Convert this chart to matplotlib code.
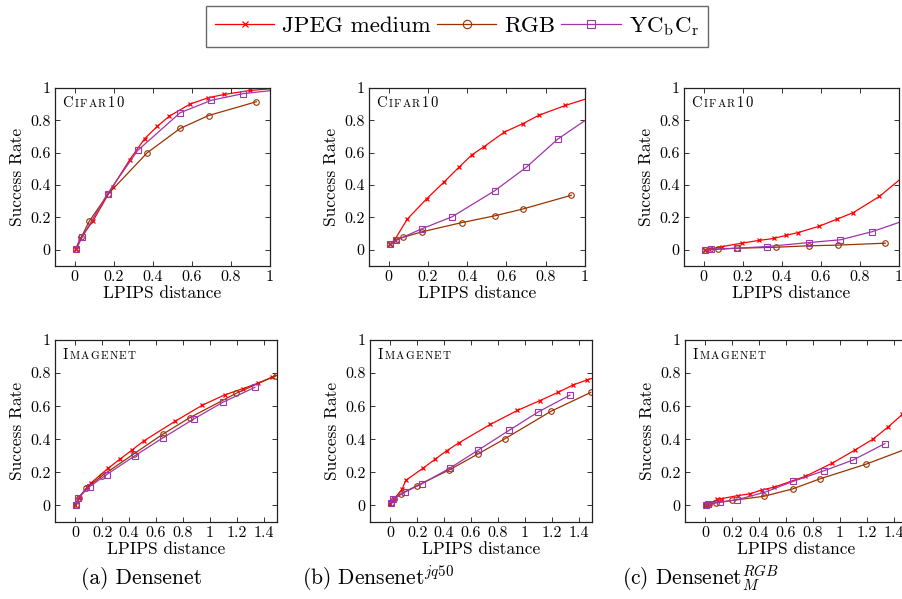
import matplotlib
matplotlib.use("Agg")
import matplotlib.pyplot as plt
from matplotlib.transforms import offset_copy
import numpy as np

plt.rcParams['font.family'] = ['cmr10', 'DejaVu Serif']
plt.rcParams['mathtext.fontset'] = 'cm'
plt.rcParams['axes.formatter.use_mathtext'] = True

# ---- data: Cifar10 row ----
c_jpeg_x = [0.005, 0.03, 0.095, 0.195, 0.283, 0.358, 0.424, 0.485, 0.59, 0.684, 0.766, 0.90, 1.05]
c_rgb_x = [0.008, 0.035, 0.075, 0.172, 0.372, 0.54, 0.686, 0.93]
c_ycc_x = [0.008, 0.04, 0.169, 0.323, 0.54, 0.70, 0.862, 1.05]

c_jpeg_a = [0.004, 0.07, 0.18, 0.39, 0.558, 0.686, 0.764, 0.826, 0.90, 0.94, 0.96, 0.985, 1.0]
c_rgb_a = [0.004, 0.079, 0.176, 0.345, 0.60, 0.75, 0.83, 0.915]
c_ycc_a = [0.004, 0.08, 0.347, 0.614, 0.847, 0.924, 0.965, 0.99]

c_jpeg_b = [0.034, 0.06, 0.19, 0.317, 0.42, 0.51, 0.587, 0.637, 0.728, 0.78, 0.832, 0.892, 0.95]
c_rgb_b = [0.034, 0.058, 0.078, 0.112, 0.168, 0.21, 0.253, 0.337]
c_ycc_b = [0.034, 0.06, 0.13, 0.204, 0.365, 0.509, 0.685, 0.84]

c_jpeg_c = [0.0, 0.004, 0.02, 0.041, 0.058, 0.07, 0.09, 0.107, 0.145, 0.19, 0.23, 0.33, 0.48]
c_rgb_c = [0.0, 0.004, 0.004, 0.01, 0.016, 0.025, 0.029, 0.041]
c_ycc_c = [0.0, 0.004, 0.01, 0.02, 0.045, 0.062, 0.112, 0.19]

# ---- data: Imagenet row ----
i_jpeg_x = [0.0, 0.025, 0.09, 0.115, 0.244, 0.333, 0.421, 0.51, 0.745, 0.945, 1.111, 1.246, 1.362, 1.465, 1.55]
i_rgb_x = [0.005, 0.025, 0.083, 0.2, 0.44, 0.65, 0.85, 1.197, 1.49]
i_ycc_x = [0.005, 0.02, 0.107, 0.233, 0.443, 0.655, 0.884, 1.098, 1.336]

i_jpeg_a = [0.0, 0.046, 0.11, 0.134, 0.224, 0.28, 0.334, 0.39, 0.51, 0.606, 0.668, 0.706, 0.74, 0.776, 0.80]
i_rgb_a = [0.0, 0.046, 0.104, 0.18, 0.314, 0.43, 0.53, 0.678, 0.784]
i_ycc_a = [0.0, 0.044, 0.114, 0.186, 0.30, 0.41, 0.524, 0.624, 0.714]

i_jpeg_b = [0.006, 0.036, 0.10, 0.151, 0.225, 0.279, 0.331, 0.378, 0.49, 0.574, 0.633, 0.683, 0.729, 0.759, 0.78]
i_rgb_b = [0.012, 0.036, 0.072, 0.12, 0.215, 0.31, 0.402, 0.57, 0.683]
i_ycc_b = [0.012, 0.036, 0.08, 0.13, 0.225, 0.335, 0.454, 0.564, 0.667]

i_jpeg_c = [0.0, 0.01, 0.036, 0.04, 0.06, 0.07, 0.094, 0.11, 0.176, 0.256, 0.334, 0.40, 0.476, 0.55, 0.62]
i_rgb_c = [0.0, 0.01, 0.016, 0.03, 0.056, 0.10, 0.16, 0.25, 0.34]
i_ycc_c = [0.0, 0.01, 0.02, 0.034, 0.08, 0.146, 0.21, 0.274, 0.374]

series_names = ['JPEG medium', 'RGB', r'Y$\mathrm{C_b}$$\mathrm{C_r}$']
captions = ['(a) Densenet', r'(b) Densenet$^{jq50}$', r'(c) Densenet$_{M}^{RGB}$']

RED = '#ff0000'
BROWN = '#993300'
PURPLE = '#a035a8'

fig = plt.figure(figsize=(9.02, 5.99), dpi=100)
W, H = 902.0, 599.0
renderer = fig.canvas.get_renderer()


def box(x0, x1, ytop, ybot):
    return [x0 / W, 1 - ybot / H, (x1 - x0) / W, (ybot - ytop) / H]


top_boxes = [box(55, 270, 88, 266), box(369, 585, 88, 266), box(684, 899, 88, 266)]
bot_boxes = [box(55, 277, 340, 522), box(370, 592, 340, 522), box(685, 907, 340, 522)]

top_data = [(c_jpeg_a, c_rgb_a, c_ycc_a), (c_jpeg_b, c_rgb_b, c_ycc_b), (c_jpeg_c, c_rgb_c, c_ycc_c)]
bot_data = [(i_jpeg_a, i_rgb_a, i_ycc_a), (i_jpeg_b, i_rgb_b, i_ycc_b), (i_jpeg_c, i_rgb_c, i_ycc_c)]


def small_caps(ax, parts):
    # letters drawn one by one on a common baseline, fake small capitals
    dx = 0.0
    for txt, fs in parts:
        for ch in txt:
            tr = offset_copy(ax.transAxes, fig=fig, x=dx, y=0, units='dots')
            t = ax.text(0.035, 0.895, ch, transform=tr, fontsize=fs,
                        va='baseline', ha='left')
            dx += t.get_window_extent(renderer).width + 1.3


def draw(ax, xs, ys, xlim, xticks, xticklabels, label):
    jx, rx, yx = xs
    jy, ry, yy = ys
    ax.plot(jx, jy, color=RED, marker='x', ms=3, mew=0.9, lw=0.9, label=series_names[0])
    ax.plot(rx, ry, color=BROWN, marker='o', ms=4, mfc='none', mew=0.8, lw=0.9,
            label=series_names[1])
    ax.plot(yx, yy, color=PURPLE, marker='s', ms=4.3, mfc='none', mew=0.8, lw=0.9,
            label=series_names[2])
    ax.set_xlim(*xlim)
    ax.set_ylim(-0.1, 1.0)
    ax.set_xticks(xticks)
    ax.set_xticklabels(xticklabels)
    ax.set_yticks([0, 0.2, 0.4, 0.6, 0.8, 1])
    ax.set_yticklabels(['0', '0.2', '0.4', '0.6', '0.8', '1'])
    ax.tick_params(direction='in', length=3.5, width=0.7, labelsize=11.5,
                   top=True, right=True, pad=3, color='#333333')
    for sp in ax.spines.values():
        sp.set_linewidth(0.9)
        sp.set_color('#222222')
    ax.set_xlabel('LPIPS distance', fontsize=12.5, labelpad=1)
    ax.set_ylabel('Success Rate', fontsize=12.5, labelpad=4)
    if label == 'c':
        small_caps(ax, [('C', 10.5), ('IFAR', 8), ('10', 10.5)])
    else:
        small_caps(ax, [('I', 10.5), ('MAGENET', 8)])


c_ticks = [0, 0.2, 0.4, 0.6, 0.8, 1]
c_labels = ['0', '0.2', '0.4', '0.6', '0.8', '1']
i_ticks = [0, 0.2, 0.4, 0.6, 0.8, 1, 1.2, 1.4]
i_labels = ['0', '0.2', '0.4', '0.6', '0.8', '1', '1.2', '1.4']

axes = []
for b, d in zip(top_boxes, top_data):
    ax = fig.add_axes(b)
    draw(ax, (c_jpeg_x, c_rgb_x, c_ycc_x), d, (-0.1, 1.0), c_ticks, c_labels, 'c')
    axes.append(ax)
for b, d in zip(bot_boxes, bot_data):
    ax = fig.add_axes(b)
    draw(ax, (i_jpeg_x, i_rgb_x, i_ycc_x), d, (-0.15, 1.5), i_ticks, i_labels, 'i')
    axes.append(ax)

handles, labels = axes[0].get_legend_handles_labels()
leg = fig.legend(handles, labels, loc='center', bbox_to_anchor=(457 / W, 1 - 26.5 / H),
                 ncol=3, fontsize=16.5, frameon=True, fancybox=False, edgecolor='#444444',
                 handlelength=2.6, handletextpad=0.35, columnspacing=0.25,
                 borderpad=0.4, markerscale=1.5)
leg.get_frame().set_linewidth(1.0)

for xc, cap in zip([142, 378, 700], captions):
    fig.text(xc / W, 1 - 578 / H, cap, ha='center', va='center', fontsize=15.5)

fig.savefig('out.png', dpi=100)
